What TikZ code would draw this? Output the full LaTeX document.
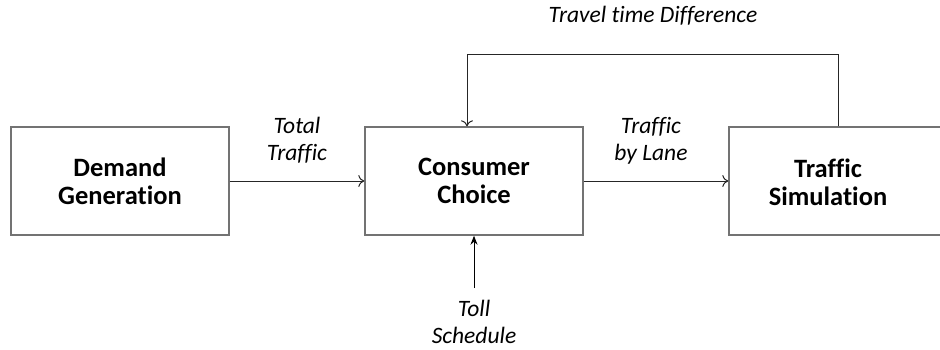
\documentclass[tikz,border=0pt]{standalone}
\usepackage{fontspec}
\setmainfont[Ligatures=NoCommon]{Carlito}
\usetikzlibrary{arrows.meta}
\begin{document}
\begin{tikzpicture}[x=1pt,y=-1pt,
  block/.style={draw=black!55, line width=1.4pt, rectangle, minimum width=218pt, minimum height=108pt, inner sep=0pt},
  blocktext/.style={font=\fontsize{26.5}{28}\selectfont\bfseries, align=center, inner sep=0pt},
  flowlabel/.style={font=\fontsize{23.5}{27}\selectfont\itshape, align=center, inner sep=0pt},
  flow/.style={draw=black!85, line width=1pt, -{To[length=6pt,width=12pt]}},
  feed/.style={draw=black, line width=1pt, -{Stealth[length=9pt,width=7pt]}}]
\useasboundingbox (0,0) rectangle (940,349);

% the three stages of the model
\node[block, blocktext] (dem) at (120,181) {Demand\\Generation};
\node[block, blocktext] (con) at (474,181) {Consumer\\Choice};
\node[block, minimum width=230pt] (sim) at (844,181) {};
\node[blocktext] (simtext) at (828,182) {Traffic\\Simulation};

% forward flows
\draw[flow] (dem.east) -- (con.west);
\draw[flow] (con.east) -- (sim.west);

% feedback loop from the simulation back to the choice model
\coordinate (fbtop) at (838,54);
\coordinate (fbleft) at (467,54);
\draw[flow] (sim.north -| fbtop) -- (fbtop) -- (fbleft) -- (fbleft |- con.north);

% toll input
\coordinate (tollstart) at (474,288);
\draw[feed] (tollstart) -- (con.south);

% flow labels
\node[flowlabel] (ltravel) at (653,16) {Travel time Difference};
\node[flowlabel] (ltotal) at (297,140) {Total\\Traffic};
\node[flowlabel] (llane) at (651,141) {Traffic\\by Lane};
\node[flowlabel] (ltoll) at (474,322) {Toll\\Schedule};
\end{tikzpicture}
\end{document}
